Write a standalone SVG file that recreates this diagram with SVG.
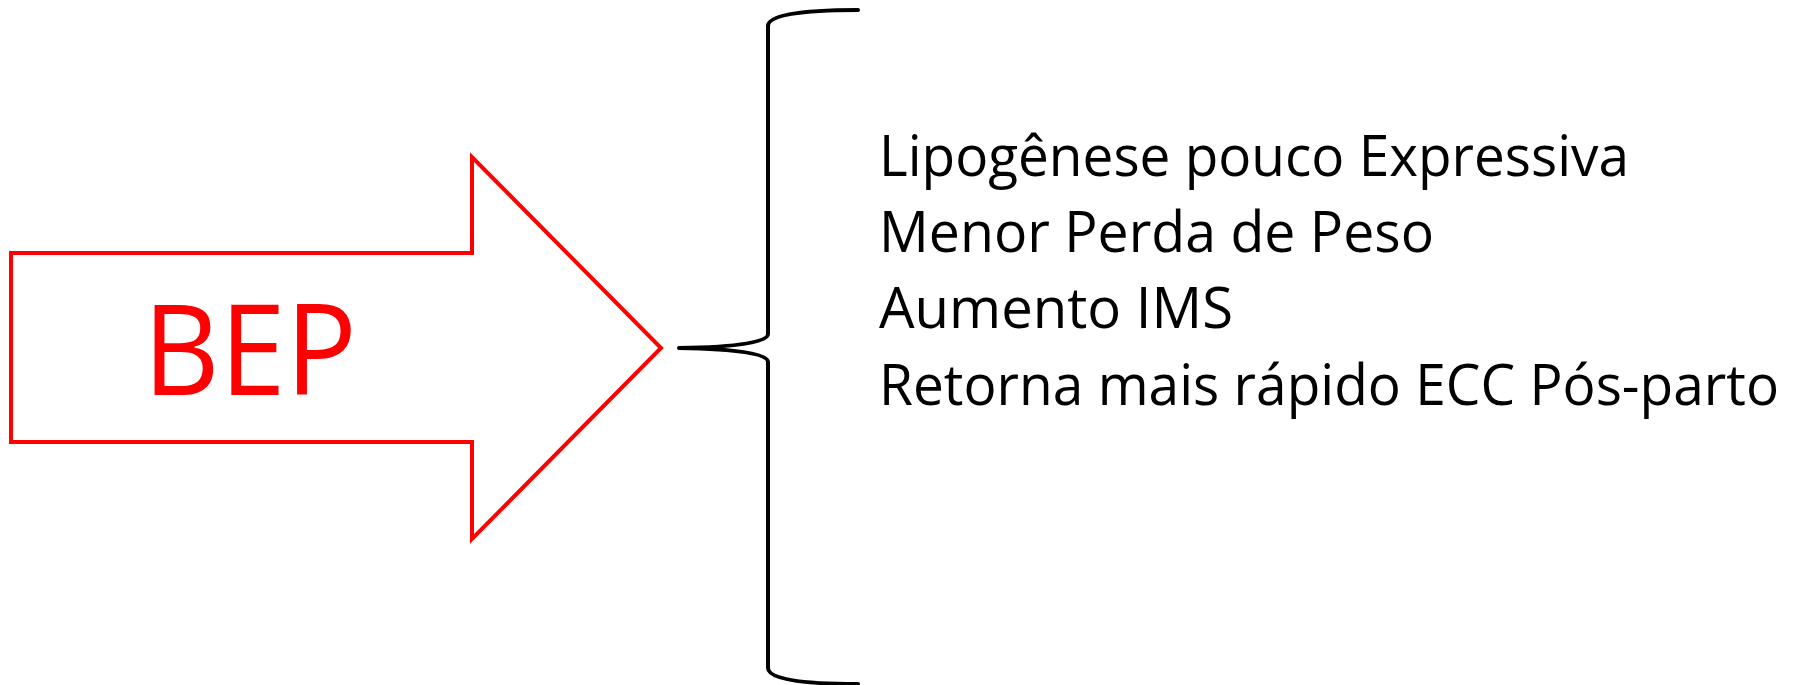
<svg xmlns="http://www.w3.org/2000/svg" width="1796" height="685" viewBox="0 0 1796 685">
<style>
.arrow{fill:#ffffff;stroke:#ff0000;stroke-width:4;stroke-linejoin:miter}
.brace{fill:none;stroke:#000000;stroke-width:4;stroke-linecap:round;stroke-linejoin:round}
.bep{font-family:"Open Sans","Noto Sans","Liberation Sans",sans-serif;font-size:126px;fill:#ff0000}
.item{font-family:"Open Sans","Noto Sans","Liberation Sans",sans-serif;font-size:57px;fill:#000000}
</style>
<rect width="1796" height="685" fill="#ffffff"/>
<g id="node-bep">
<polygon class="arrow" points="11,253 472,253 472,157 661,348 472,539 472,442 11,442"/>
<text class="bep" x="250" y="395" text-anchor="middle" textLength="214" lengthAdjust="spacingAndGlyphs">BEP</text>
</g>
<g id="connectors">
<path class="brace" d="M858,10 C800,10 768,15 768,26 L768,334 C768,342 740,347 679,348 C740,349 768,354 768,362 L768,668 C768,679 800,684 858,684"/>
</g>
<g id="node-list">
<text class="item" x="879" y="176" textLength="750" lengthAdjust="spacingAndGlyphs">Lipogênese pouco Expressiva</text>
<text class="item" x="879" y="252" textLength="555" lengthAdjust="spacingAndGlyphs">Menor Perda de Peso</text>
<text class="item" x="879" y="328" textLength="354" lengthAdjust="spacingAndGlyphs">Aumento IMS</text>
<text class="item" x="879" y="405" textLength="900" lengthAdjust="spacingAndGlyphs">Retorna mais rápido ECC Pós-parto</text>
</g>
</svg>
